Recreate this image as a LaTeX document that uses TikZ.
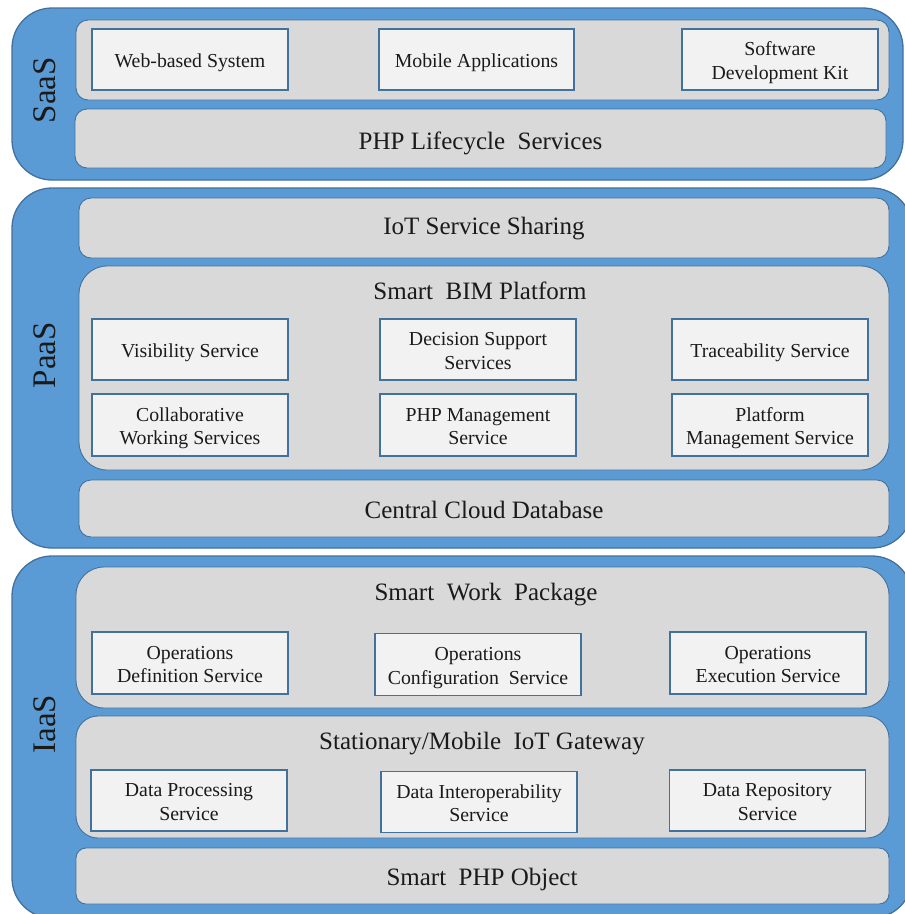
\documentclass[tikz,border=0pt]{standalone}
\usepackage{fontspec}
\setmainfont{Liberation Serif}
\definecolor{panelblue}{HTML}{5B9BD5}
\definecolor{edgeblue}{HTML}{41719C}
\definecolor{layergray}{HTML}{D9D9D9}
\definecolor{boxwhite}{HTML}{F2F2F2}
\definecolor{inkc}{HTML}{1A1A1A}
\newcommand{\svctext}[1]{\raisebox{-3.5pt}[\height][\depth]{\begin{tabular}{@{}c@{}}#1\end{tabular}}}
\tikzset{
  panel/.style={fill=panelblue, draw=edgeblue, line width=1.3pt, rounded corners=40pt},
  layer/.style={fill=layergray, draw=edgeblue, line width=0.9pt, rounded corners=12pt},
  biglayer/.style={fill=layergray, draw=edgeblue, line width=0.9pt, rounded corners=28pt},
  svcbox/.style={rectangle, fill=boxwhite, draw=edgeblue, line width=1.2pt, text=inkc,
     minimum width=196pt, minimum height=61pt, inner sep=0pt, align=center,
     font=\fontsize{19.8}{23.5}\selectfont},
  layertext/.style={text=inkc, inner sep=0pt, yshift=-3pt, font=\fontsize{25}{30}\selectfont},
  sidelabel/.style={text=inkc, inner sep=0pt, rotate=90, font=\fontsize{33}{38}\selectfont}
}
\begin{document}
\begin{tikzpicture}[x=1pt,y=-1pt]
\useasboundingbox (0,0) rectangle (905,914);
\fill[white] (0,0) rectangle (905,914);

% ---------------- SaaS ----------------
\draw[panel] (12,8) rectangle (903,180);
\node[sidelabel] (saas) at (45,90) {SaaS};
\draw[layer] (76,20) rectangle (889,100);
\node[svcbox] (web) at (190,59.5) {\svctext{Web-based System}};
\node[svcbox, minimum width=195pt] (mobile) at (476.5,59.5) {\svctext{Mobile Applications}};
\node[svcbox] (sdk) at (780,59.5) {\svctext{Software\\Development Kit}};
\draw[layer] (75,109) rectangle (886,168);
\node[layertext] (lifecycle) at (480.5,140) {PHP Lifecycle\ \ Services};

% ---------------- PaaS ----------------
\draw[panel] (12,188) rectangle (912,548);
\node[sidelabel] (paas) at (45,355) {PaaS};
\draw[layer] (79,198) rectangle (889,258);
\node[layertext] (iot) at (484,226) {IoT Service Sharing};
\draw[biglayer] (79,266) rectangle (889,470);
\node[layertext] (bim) at (480,288) {Smart\ \ BIM Platform};
\node[svcbox] (vis) at (190,349.5) {\svctext{Visibility Service}};
\node[svcbox] (dss) at (478,349.5) {\svctext{Decision Support\\Services}};
\node[svcbox] (trace) at (770,349.5) {\svctext{Traceability Service}};
\node[svcbox, minimum height=62pt] (collab) at (190,425) {\svctext{Collaborative\\Working Services}};
\node[svcbox, minimum height=62pt] (phpm) at (478,425) {\svctext{PHP Management\\Service}};
\node[svcbox, minimum height=62pt] (platm) at (770,425) {\svctext{Platform\\Management Service}};
\draw[layer] (79,480) rectangle (889,537);
\node[layertext] (ccd) at (484,507) {Central Cloud Database};

% ---------------- IaaS ----------------
\draw[panel] (12,556) rectangle (912,918);
\node[sidelabel] (iaas) at (45,724) {IaaS};
\draw[biglayer] (76,567) rectangle (889,708);
\node[layertext] (swp) at (486,592) {Smart\ \ Work\ \ Package};
\node[svcbox, minimum height=62pt] (ods) at (190,663) {\svctext{Operations\\Definition Service}};
\node[svcbox, minimum width=206pt, minimum height=62pt] (ocs) at (478,664.5) {\svctext{Operations\\Configuration\ \ Service}};
\node[svcbox, minimum height=62pt] (oes) at (768,663) {\svctext{Operations\\Execution Service}};
\draw[biglayer, rounded corners=22pt] (76,716) rectangle (889,838);
\node[layertext] (gw) at (482,741) {Stationary/Mobile\ \ IoT Gateway};
\node[svcbox] (dps) at (189,800.5) {\svctext{Data Processing\\Service}};
\node[svcbox] (dis) at (479,802) {\svctext{Data Interoperability\\Service}};
\node[svcbox] (drs) at (767.5,800.5) {\svctext{Data Repository\\Service}};
\draw[layer, rounded corners=10pt] (76,848) rectangle (889,904);
\node[layertext] (spo) at (482,876) {Smart\ \ PHP Object};
\end{tikzpicture}
\end{document}
